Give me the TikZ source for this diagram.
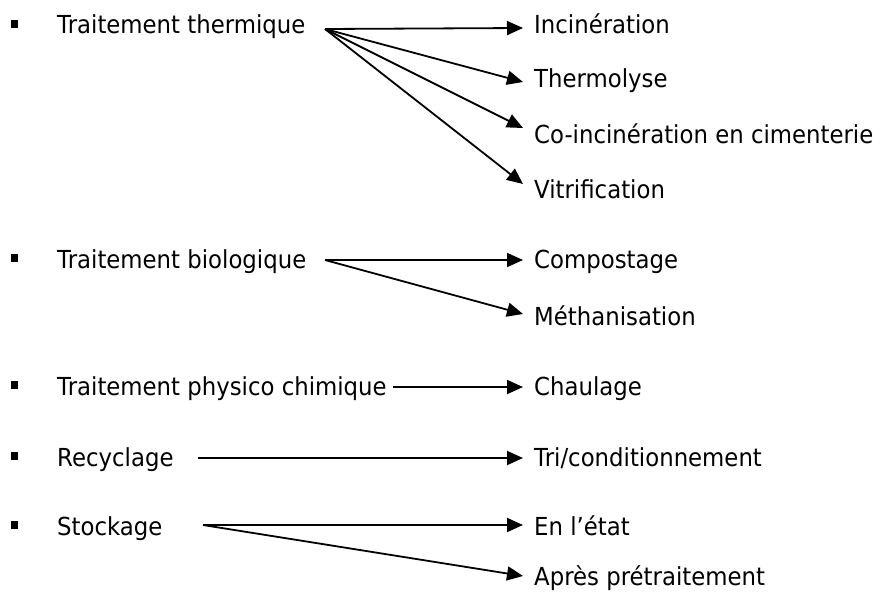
\documentclass[tikz,border=0pt]{standalone}
\usepackage{fontspec}
\setmainfont{DejaVu Sans}[FakeStretch=0.92]
\usetikzlibrary{arrows.meta}
\begin{document}
\begin{tikzpicture}[x=1pt,y=-1pt,
  lbl/.style={anchor=base west,inner sep=0pt,font=\fontsize{24.8}{29}\selectfont},
  sq/.style={fill=black,minimum size=7.5pt,inner sep=0pt},
  link/.style={line width=1.8pt,-{Triangle[length=16pt,width=14pt]}}]
\useasboundingbox (0,0) rectangle (880,594);

% bullets
\node[sq] (b1) at (14.5,24) {};
\node[sq] (b2) at (14.5,258) {};
\node[sq] (b3) at (14.5,385) {};
\node[sq] (b4) at (14.5,456) {};
\node[sq] (b5) at (14.5,525) {};

% families of treatment
\node[lbl] (tt) at (57,34) {Traitement thermique};
\node[lbl] (tb) at (57,268) {Traitement biologique};
\node[lbl] (tp) at (57,395) {Traitement physico chimique};
\node[lbl] (rc) at (57,466) {Recyclage};
\node[lbl] (st) at (57,535) {Stockage};

% processes
\node[lbl] (inc) at (534,34) {Incinération};
\node[lbl] (thl) at (534,87) {Thermolyse};
\node[lbl] (coi) at (534,143) {Co-incinération en cimenterie};
\node[lbl] (vit) at (534,198) {Vitrification};
\node[lbl] (cmp) at (534,268) {Compostage};
\node[lbl] (met) at (534,325) {Méthanisation};
\node[lbl] (chl) at (534,395) {Chaulage};
\node[lbl] (tri) at (534,466) {Tri/conditionnement};
\node[lbl] (etat) at (534,535) {En l’état};
\node[lbl] (apr) at (534,585) {Après prétraitement};

% starting points of the connectors
\coordinate (tt-o) at (325,29);
\coordinate (tb-o) at (325,260);
\coordinate (tp-o) at (393,387);
\coordinate (rc-o) at (198,458);
\coordinate (st-o) at (203,525);

% arrow tips
\coordinate (inc-t) at (523,28);
\coordinate (thl-t) at (523,82);
\coordinate (coi-t) at (523,128);
\coordinate (vit-t) at (523,184);
\coordinate (cmp-t) at (523,260);
\coordinate (met-t) at (523,314);
\coordinate (chl-t) at (523,387);
\coordinate (tri-t) at (523,458);
\coordinate (etat-t) at (523,525);
\coordinate (apr-t) at (523,576);

\draw[link] (tt-o) -- (inc-t);
\draw[link] (tt-o) -- (thl-t);
\draw[link] (tt-o) -- (coi-t);
\draw[link] (tt-o) -- (vit-t);
\draw[link] (tb-o) -- (cmp-t);
\draw[link] (tb-o) -- (met-t);
\draw[link] (tp-o) -- (chl-t);
\draw[link] (rc-o) -- (tri-t);
\draw[link] (st-o) -- (etat-t);
\draw[link] (st-o) -- (apr-t);
\end{tikzpicture}
\end{document}
